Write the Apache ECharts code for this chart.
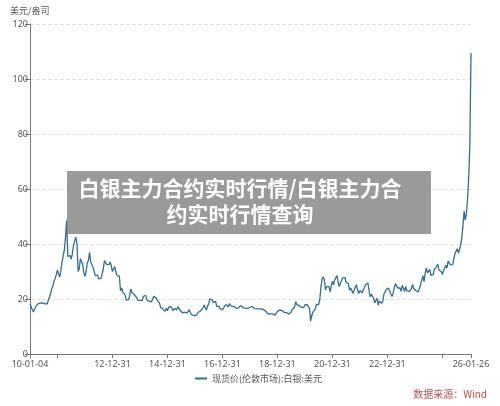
<!DOCTYPE html>
<html>
<head>
<meta charset="utf-8">
<script src="https://cdn.jsdelivr.net/npm/echarts@6/dist/echarts.min.js"></script>
<style>
html, body { margin: 0; padding: 0; background: #fff; }
#main { width: 500px; height: 406px; }
</style>
</head>
<body>
<div id="main"></div>
<script>
// 月中价格（美元/盎司），按年份分开
const m2010 = [18.4, 15.3, 17.2, 18.2, 18.5, 18.6, 18.2, 18.2, 20.7, 23.9, 26.5, 29.0];
const m2011 = [29.0, 30.5, 35.8, 42.5, 35.5, 35.8, 36.5, 40.0, 40.3, 31.0, 33.5, 29.5];
const m2012 = [30.0, 34.0, 33.5, 31.5, 28.5, 28.7, 27.3, 28.0, 34.0, 32.5, 32.5, 32.0];
const m2013 = [31.0, 29.8, 28.6, 23.0, 22.5, 21.5, 19.8, 21.0, 22.3, 21.7, 20.5, 19.8];
const m2014 = [20.2, 21.0, 21.3, 19.6, 19.3, 19.8, 20.6, 19.6, 18.6, 17.4, 15.6, 16.6];
const m2015 = [17.0, 17.2, 15.8, 16.1, 17.2, 15.9, 15.0, 15.2, 14.9, 16.0, 14.3, 14.0];
const m2016 = [14.0, 15.2, 15.7, 16.8, 17.1, 17.3, 20.1, 19.7, 19.2, 17.3, 17.3, 16.4];
const m2017 = [16.8, 18.0, 17.2, 18.3, 16.8, 17.3, 16.0, 17.1, 17.8, 17.2, 17.0, 15.9];
const m2018 = [17.2, 16.7, 16.5, 16.6, 16.5, 16.9, 15.6, 14.8, 14.1, 14.6, 14.2, 14.7];
const m2019 = [15.6, 15.8, 15.2, 15.0, 14.8, 15.0, 16.2, 17.1, 18.0, 17.6, 17.0, 16.9];
const m2020 = [17.9, 17.6, 12.0, 15.2, 16.3, 17.6, 19.8, 27.2, 27.0, 24.5, 24.5, 24.7];
const m2021 = [25.2, 27.5, 26.0, 25.8, 27.7, 27.8, 25.8, 23.2, 23.6, 23.3, 25.2, 22.0];
const m2022 = [23.0, 23.4, 25.2, 25.8, 20.8, 21.5, 18.6, 20.3, 19.3, 18.4, 21.8, 23.4];
const m2023 = [24.0, 21.8, 22.0, 25.6, 24.0, 24.0, 25.0, 22.7, 23.0, 22.7, 23.8, 23.8];
const m2024 = [23.0, 22.6, 25.2, 28.5, 29.3, 29.5, 30.8, 28.0, 30.8, 31.8, 30.5, 30.0];
const m2025 = [30.3, 32.3, 33.8, 32.4, 32.5, 36.5, 38.3, 38.0, 42.5, 52.0, 51.0, 64.0];
// 月末价格（美元/盎司）
const e2010 = [16.2, 16.3, 17.5, 18.6, 18.4, 18.7, 18.0, 19.6, 21.9, 24.7, 27.5, 30.6];
const e2011 = [28.0, 33.4, 37.9, 48.6, 35.0, 34.5, 39.5, 42.5, 30.0, 34.7, 32.7, 28.2];
const e2012 = [33.1, 37.0, 32.5, 31.2, 28.4, 27.3, 27.5, 30.9, 34.5, 32.2, 33.5, 30.0];
const e2013 = [31.8, 28.5, 28.3, 24.0, 22.3, 19.6, 19.8, 23.7, 21.7, 21.8, 19.6, 19.5];
const e2014 = [19.4, 21.3, 19.7, 19.1, 19.0, 21.0, 20.4, 19.4, 17.1, 16.3, 15.5, 15.7];
const e2015 = [17.2, 16.6, 16.6, 16.0, 16.7, 15.6, 14.7, 14.6, 14.5, 15.6, 14.1, 13.8];
const e2016 = [14.2, 15.0, 15.4, 17.8, 16.0, 18.4, 20.4, 18.7, 19.2, 17.7, 16.5, 16.0];
const e2017 = [17.5, 18.4, 18.3, 17.3, 17.3, 16.6, 16.8, 17.6, 16.9, 16.7, 16.6, 17.0];
const e2018 = [17.3, 16.5, 16.4, 16.4, 16.4, 16.1, 15.5, 14.5, 14.6, 14.6, 14.1, 15.5];
const e2019 = [16.0, 15.8, 15.1, 15.0, 14.5, 15.3, 16.4, 19.0, 17.5, 18.0, 16.9, 17.9];
const e2020 = [18.0, 16.6, 14.0, 15.0, 18.0, 18.0, 24.3, 28.0, 23.3, 23.8, 22.6, 26.5];
const e2021 = [26.9, 28.5, 24.5, 26.0, 27.5, 26.0, 25.5, 24.0, 22.0, 24.0, 23.2, 23.1];
const e2022 = [22.3, 24.2, 25.0, 23.0, 21.7, 20.3, 19.0, 17.8, 18.8, 19.2, 21.5, 23.9];
const e2023 = [23.6, 20.9, 24.1, 25.0, 23.5, 22.8, 24.9, 24.6, 22.3, 22.9, 25.3, 23.8];
const e2024 = [22.9, 22.7, 25.0, 26.3, 31.3, 29.1, 28.6, 28.9, 31.1, 32.7, 30.3, 28.9];
const e2025 = [31.3, 31.2, 34.1, 32.5, 33.0, 36.0, 36.7, 39.7, 46.6, 48.7, 56.5, 76.0];
const startDate = '10-01-04', startValue = 18.2;
const endDate = '26-01-26', endValue = 109.5;

const midYears = [m2010, m2011, m2012, m2013, m2014, m2015, m2016, m2017, m2018, m2019, m2020, m2021, m2022, m2023, m2024, m2025];
const endYears = [e2010, e2011, e2012, e2013, e2014, e2015, e2016, e2017, e2018, e2019, e2020, e2021, e2022, e2023, e2024, e2025];
const monthEnd = ['01-29', '02-26', '03-31', '04-30', '05-31', '06-30', '07-30', '08-31', '09-30', '10-29', '11-30', '12-31'];

const dates = [startDate];
const values = [startValue];
endYears.forEach((arr, i) => {
    const yy = String(10 + i).padStart(2, '0');
    arr.forEach((v, m) => {
        dates.push(yy + '-' + String(m + 1).padStart(2, '0') + '-15');
        values.push(midYears[i][m]);
        dates.push(yy + '-' + monthEnd[m]);
        values.push(v);
    });
});
dates.push(endDate);
values.push(endValue);

const lastIdx = dates.length - 1;
// 刻度：起点、每两年年末、终点；10-12-31 与 24-12-31 只画刻度不标文字
const tickShow = (idx) => idx === 0 || idx === lastIdx || (idx >= 24 && (idx - 24) % 48 === 0);
const labelShow = (idx) => tickShow(idx) && idx !== 24 && idx !== 360;

const lineColor = '#2f6f94';
const myChart = echarts.init(document.getElementById('main'));
const option = {
    animation: false,
    grid: { left: 30, right: 29, top: 24, bottom: 52, containLabel: false },
    xAxis: {
        type: 'category',
        data: dates,
        boundaryGap: false,
        axisLine: { lineStyle: { color: '#777', width: 1 } },
        axisTick: { show: true, interval: (i) => tickShow(i), length: 4, lineStyle: { color: '#777' } },
        axisLabel: {
            interval: (i) => labelShow(i),
            color: '#555', fontSize: 9, fontFamily: 'Noto Sans', margin: 6,
            showMinLabel: true, showMaxLabel: true
        },
        splitLine: { show: false }
    },
    yAxis: {
        type: 'value',
        min: 0, max: 120, interval: 20,
        axisLine: { show: true, lineStyle: { color: '#777', width: 1 } },
        axisTick: { show: true, length: 5, lineStyle: { color: '#777' } },
        axisLabel: { color: '#555', fontSize: 9, fontFamily: 'Noto Sans', margin: 2 },
        splitLine: { show: true, lineStyle: { color: '#e2e2e2', type: 'dashed' } }
    },
    legend: {
        left: 190, top: 369,
        itemWidth: 12, itemHeight: 2, itemGap: 4,
        icon: 'rect',
        textStyle: { color: '#555', fontSize: 9, fontFamily: 'Noto Sans CJK SC' },
        data: ['现货价(伦敦市场):白银:美元']
    },
    series: [{
        name: '现货价(伦敦市场):白银:美元',
        type: 'line',
        data: values,
        showSymbol: false,
        lineStyle: { color: lineColor, width: 1.3 },
        itemStyle: { color: lineColor }
    }],
    graphic: [
        {
            type: 'text', left: 10, top: 6,
            style: { text: '美元/盎司', fill: '#555', fontSize: 9, fontFamily: 'Noto Sans CJK SC' }
        },
        {
            type: 'text', right: 13, top: 389,
            style: { text: '数据来源：Wind', fill: '#c0504d', fontSize: 10, fontFamily: 'Noto Sans CJK SC' }
        },
        {
            type: 'rect', left: 67, top: 171, z: 100,
            shape: { width: 364, height: 63 },
            style: { fill: 'rgba(140,140,140,0.88)' }
        },
        {
            type: 'text', z: 101, x: 240, y: 175,
            style: {
                text: '白银主力合约实时行情/白银主力合\n约实时行情查询',
                fill: '#fff', fontSize: 21, fontWeight: 'bold', lineHeight: 26,
                fontFamily: 'Noto Sans CJK SC', align: 'center'
            }
        }
    ]
};
myChart.setOption(option);
</script>
</body>
</html>
